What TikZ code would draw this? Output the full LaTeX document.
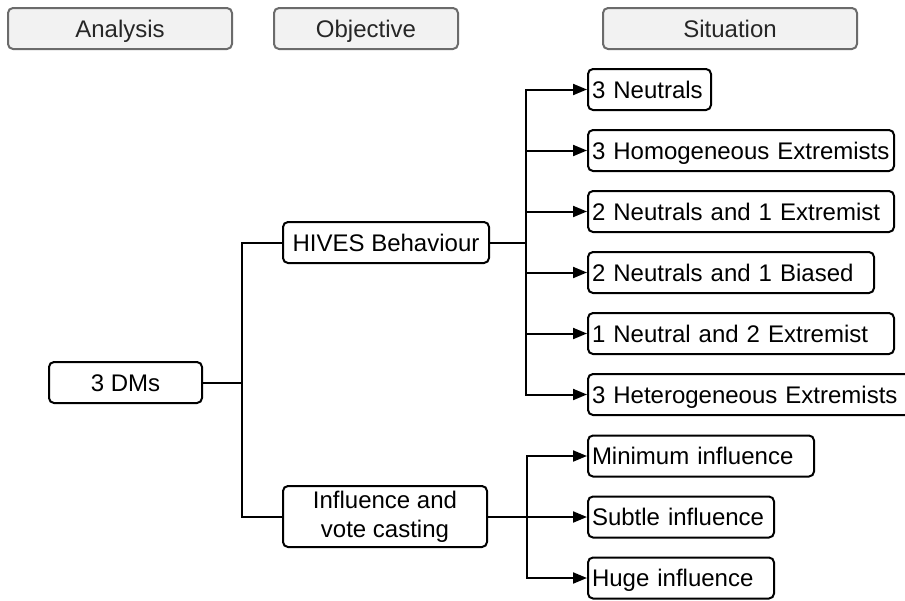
\documentclass[tikz,border=0pt]{standalone}
\usepackage{fontspec}
\setmainfont{Liberation Sans}
\usetikzlibrary{arrows.meta}
\definecolor{headfill}{HTML}{F2F2F2}
\definecolor{headline}{HTML}{6B6B6B}

\begin{document}
\begin{tikzpicture}[x=0.5pt,y=-0.5pt,line width=1pt,
    box/.style={draw,rounded corners=2.5pt,minimum height=20.5pt,inner sep=2pt,
      text height=10.8pt,text depth=2.2pt,font=\fontsize{12}{14.4}\selectfont},
    head/.style={box,draw=headline,fill=headfill,text=black!85},
    sit/.style={box,anchor=west,align=left},
    arr/.style={-{Triangle[length=7pt,width=5.5pt]}}]
  \useasboundingbox (0,0) rectangle (905,600);
  % column heads
  \node[head,minimum width=112pt] (analysis) at (120,28.5) {Analysis};
  \node[head,minimum width=92pt] (objective) at (366,28.5) {Objective};
  \node[head,minimum width=127pt] (situation) at (730,28.5) {Situation};
  % tree
  \node[box,minimum width=76.5pt] (dms) at (125.5,382.5) {3 DMs};
  \node[box,minimum width=103pt] (hives) at (386,242.5) {HIVES Behaviour};
  \node[box,minimum width=102pt,minimum height=30.5pt,text height=,text depth=,align=center] (infl) at (385,516.5) {Influence and\\vote casting};
  \foreach \n/\w/\t in {1/57.5/3 Neutrals, 2/149/3 Homogeneous Extremists, 3/149/2 Neutrals and 1 Extremist,
      4/139/2 Neutrals and 1 Biased, 5/149/1 Neutral and 2 Extremist, 6/157/3 Heterogeneous Extremists}
    \node[sit,text width=\w pt] (s\n) at (587,28.5+61*\n) {\t};
  \foreach \n/\w/\t in {1/109/Minimum influence, 2/89/Subtle influence, 3/89/Huge influence}
    \node[sit,text width=\w pt] (i\n) at (587,395+61*\n) {\t};
  % connectors
  \coordinate (j1) at (242,382.5);
  \coordinate (j2) at (526,242.5);
  \coordinate (j3) at (527,516.5);
  \draw (dms.east) -- (j1);
  \draw (hives.west) -| (j1) |- (infl.west);
  \draw (hives.east) -- (j2);
  \draw (infl.east) -- (j3);
  \foreach \n in {1,...,6}
    \draw[arr] (j2) |- (s\n.west);
  \foreach \n in {1,...,3}
    \draw[arr] (j3) |- (i\n.west);
\end{tikzpicture}
\end{document}
